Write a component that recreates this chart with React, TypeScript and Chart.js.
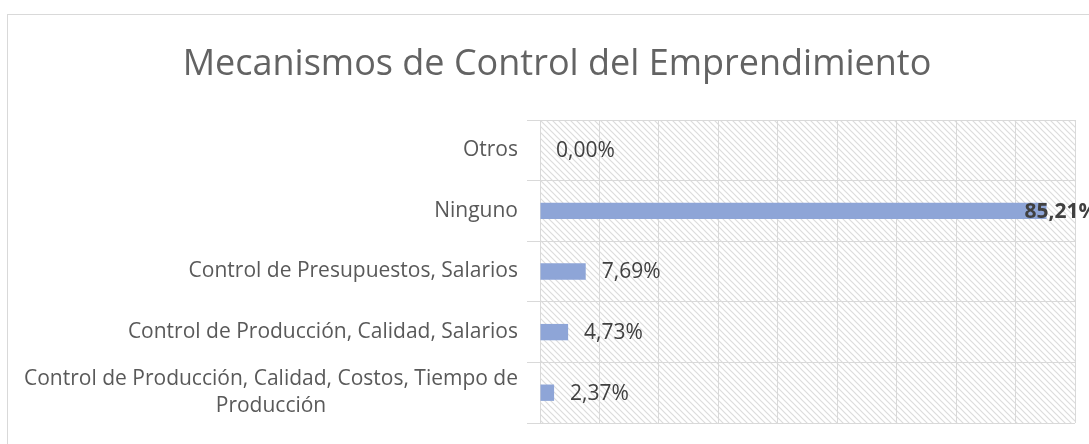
import React, { useEffect, useRef } from "react";
import { Chart, registerables } from "chart.js";

Chart.register(...registerables);

const categories: (string | string[])[] = [
  "Otros",
  "Ninguno",
  "Control de Presupuestos, Salarios",
  "Control de Producción, Calidad, Salarios",
  ["Control de Producción, Calidad, Costos, Tiempo de", "Producción"],
];
const values: number[] = [0.0, 85.21, 7.69, 4.73, 2.37];
const valueLabels: string[] = ["0,00%", "85,21%", "7,69%", "4,73%", "2,37%"];
const xTicks: number[] = [0, 10, 20, 30, 40, 50, 60, 70, 80, 90];
const titleText = "Mecanismos de Control del Emprendimiento";

const FONT = "'Open Sans', 'DejaVu Sans', sans-serif";
const W = 1114;
const H = 444;

function makePattern(ctx: CanvasRenderingContext2D): CanvasPattern | string {
  const s = 6;
  const c = document.createElement("canvas");
  c.width = s;
  c.height = s;
  const p = c.getContext("2d");
  if (!p) return "#fff";
  p.fillStyle = "#ffffff";
  p.fillRect(0, 0, s, s);
  p.strokeStyle = "#dcdcdc";
  p.lineWidth = 1.2;
  p.beginPath();
  p.moveTo(-1, -1);
  p.lineTo(s + 1, s + 1);
  p.moveTo(-1, s - 1);
  p.lineTo(1, s + 1);
  p.moveTo(s - 1, -1);
  p.lineTo(s + 1, 1);
  p.stroke();
  return ctx.createPattern(c, "repeat") || "#fff";
}

const decorPlugin = {
  id: "decor",
  beforeDraw(chart: any) {
    const { ctx, chartArea } = chart;
    ctx.save();
    ctx.fillStyle = "#ffffff";
    ctx.fillRect(0, 0, chart.width, chart.height);
    ctx.strokeStyle = "#d9d9d9";
    ctx.lineWidth = 1;
    ctx.strokeRect(7.5, 14.5, W - 15, H + 40);
    ctx.fillStyle = makePattern(ctx);
    ctx.fillRect(
      chartArea.left,
      chartArea.top,
      chartArea.right - chartArea.left,
      chartArea.bottom - chartArea.top
    );
    // title
    ctx.fillStyle = "#636363";
    ctx.font = `36px ${FONT}`;
    ctx.textAlign = "center";
    ctx.textBaseline = "alphabetic";
    ctx.fillText(titleText, W / 2, 75);
    ctx.restore();
  },
  afterDatasetsDraw(chart: any) {
    const { ctx, chartArea } = chart;
    const yScale = chart.scales.y;
    ctx.save();
    // category labels
    ctx.fillStyle = "#595959";
    ctx.font = `21px ${FONT}`;
    ctx.textBaseline = "middle";
    const lineH = 27;
    categories.forEach((cat, i) => {
      const yc = yScale.getPixelForTick(i);
      const lines = Array.isArray(cat) ? cat : [cat];
      const widths = lines.map((l) => ctx.measureText(l).width);
      const maxW = Math.max(...widths);
      const right = chartArea.left - 22;
      const center = right - maxW / 2;
      lines.forEach((l, k) => {
        const y = yc + (k - (lines.length - 1) / 2) * lineH;
        ctx.textAlign = "center";
        ctx.fillText(l, center, y);
      });
    });
    // value labels
    const meta = chart.getDatasetMeta(0);
    meta.data.forEach((bar: any, i: number) => {
      const txt = valueLabels[i];
      ctx.font = `21px ${FONT}`;
      let w = ctx.measureText(txt).width;
      let x = bar.x + 16;
      if (x + w > chartArea.right + 14) {
        ctx.font = `bold 21px ${FONT}`;
        w = ctx.measureText(txt).width;
        x = bar.x - 22;
      }
      ctx.fillStyle = "#404040";
      ctx.textAlign = "left";
      ctx.fillText(txt, x, bar.y + 1);
    });
    ctx.restore();
  },
};

export default function App() {
  const ref = useRef<HTMLCanvasElement | null>(null);
  useEffect(() => {
    document.body.style.margin = "0";
    const canvas = ref.current;
    if (!canvas) return;
    const chart = new Chart(canvas, {
      type: "bar",
      data: {
        labels: categories as any,
        datasets: [
          {
            data: values,
            backgroundColor: "#8EA5D7",
            borderWidth: 0,
            barPercentage: 0.27,
            categoryPercentage: 1,
          },
        ],
      },
      options: {
        indexAxis: "y",
        animation: false,
        responsive: false,
        maintainAspectRatio: false,
        devicePixelRatio: 1,
        layout: { padding: { left: 0, top: 120, right: W - 1075, bottom: 21 } },
        plugins: {
          legend: { display: false },
          title: { display: false },
          tooltip: { enabled: false },
        },
        scales: {
          x: {
            min: xTicks[0],
            max: xTicks[xTicks.length - 1],
            afterBuildTicks: (scale: any) => {
              scale.ticks = xTicks.map((v) => ({ value: v }));
            },
            ticks: { display: false },
            grid: { color: "#d9d9d9", lineWidth: 1, drawTicks: false },
            border: { display: false },
            afterFit: (scale: any) => {
              scale.height = 0;
            },
          },
          y: {
            type: "category",
            offset: true,
            ticks: { display: false },
            grid: {
              color: "#d9d9d9",
              lineWidth: 1,
              offset: true,
              drawTicks: true,
              tickLength: 13,
            },
            border: { display: true, color: "#d9d9d9", width: 1 },
            afterFit: (scale: any) => {
              scale.width = 540;
            },
          },
        },
      },
      plugins: [decorPlugin],
    });
    return () => chart.destroy();
  }, []);
  return (
    <div style={{ width: 1089, height: H, overflow: "hidden" }}>
      <canvas ref={ref} width={W} height={H} style={{ width: W, height: H, display: "block" }} />
    </div>
  );
}
